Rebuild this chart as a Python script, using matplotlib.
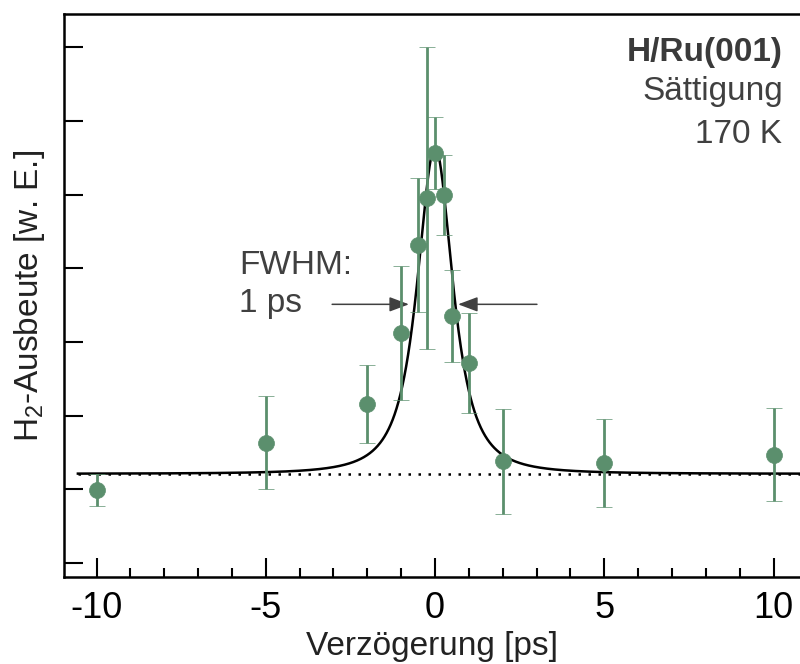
import numpy as np
import matplotlib
matplotlib.use("Agg")
import matplotlib.pyplot as plt
from matplotlib.ticker import MultipleLocator, NullFormatter

plt.rcParams['font.family'] = ['Liberation Sans', 'DejaVu Sans']
plt.rcParams['mathtext.fontset'] = 'custom'
plt.rcParams['mathtext.rm'] = 'Liberation Sans'
plt.rcParams['mathtext.it'] = 'Liberation Sans:italic'

# ---- data (y in tick units) ----
delay = [-10, -5, -2, -1, -0.5, -0.25, 0, 0.25, 0.5, 1, 2, 5, 10]
yield_h2 = [0.99, 1.63, 2.16, 3.12, 4.31, 4.95, 5.56, 4.99, 3.35, 2.71, 1.38, 1.36, 1.47]
yield_err = [0.22, 0.63, 0.53, 0.91, 0.91, 2.05, 0.49, 0.54, 0.62, 0.68, 0.71, 0.60, 0.63]

# peak-fit parameters (Pearson-VII-like profile)
fit_baseline = 1.21
fit_amplitude = 4.43
fit_center = 0.0
fit_width = 0.775
fit_power = 1.4

xticks = [-10, -5, 0, 5, 10]
xticklabels = ['-10', '-5', '0', '5', '10']
yticks = [0, 1, 2, 3, 4, 5, 6, 7]

green = '#5b8f6d'
gray = '#404040'

fig = plt.figure(figsize=(8, 6.64), dpi=100)
ax = fig.add_axes([0.08, 0.131, 0.92, 0.848])

xf = np.linspace(-10.55, 10.8, 3000)
yf = fit_baseline + fit_amplitude / (1 + ((xf - fit_center) / fit_width) ** 2) ** fit_power
ax.plot([xf[0], xf[-1]], [fit_baseline, fit_baseline], color='black', lw=1.8,
        linestyle=(0, (1, 3)), zorder=2)
ax.plot(xf, yf, color='black', lw=1.8, zorder=3)

ax.errorbar(delay, yield_h2, yerr=yield_err, fmt='o', color=green, ms=11.5,
            mec=green, mew=0.5, elinewidth=2.0, capsize=6, capthick=2.0,
            zorder=4)

# FWHM arrows
ax.annotate('', xy=(-0.77, 3.51), xytext=(-3.04, 3.51),
            arrowprops=dict(arrowstyle='-|>,head_length=1.2,head_width=0.45',
                            mutation_scale=10, color=gray, lw=1.1,
                            shrinkA=0, shrinkB=0))
ax.annotate('', xy=(0.68, 3.51), xytext=(3.01, 3.51),
            arrowprops=dict(arrowstyle='-|>,head_length=1.2,head_width=0.45',
                            mutation_scale=10, color=gray, lw=1.1,
                            shrinkA=0, shrinkB=0))

ax.text(0.238, 0.538, 'FWHM:', transform=ax.transAxes, fontsize=24,
        color=gray, ha='left', va='baseline')
ax.text(0.238, 0.471, '1 ps', transform=ax.transAxes, fontsize=24,
        color=gray, ha='left', va='baseline')

ax.text(0.977, 0.9165, 'H/Ru(001)', transform=ax.transAxes, fontsize=24,
        color='#3a3a3a', ha='right', va='baseline', fontweight='bold')
ax.text(0.977, 0.847, 'Sättigung', transform=ax.transAxes, fontsize=24,
        color=gray, ha='right', va='baseline')
ax.text(0.975, 0.771, '170 K', transform=ax.transAxes, fontsize=24,
        color=gray, ha='right', va='baseline')

ax.set_xlim(-10.96, 10.78)
ax.set_ylim(-0.19, 7.45)
ax.set_xticks(xticks)
ax.set_xticklabels(xticklabels)
ax.xaxis.set_minor_locator(MultipleLocator(1))
ax.set_yticks(yticks)
ax.yaxis.set_major_formatter(NullFormatter())

ax.tick_params(axis='both', which='major', direction='in', length=14, width=1.5,
               labelsize=26, pad=10, colors='black')
ax.tick_params(axis='x', which='minor', direction='in', length=6.5, width=1.5)

for s in ['left', 'bottom', 'top']:
    ax.spines[s].set_linewidth(1.8)
ax.spines['right'].set_visible(False)

ax.set_xlabel('Verzögerung [ps]', fontsize=24, color='#222222', labelpad=4)
ax.set_ylabel('H$_\\mathrm{2}$-Ausbeute [w. E.]', fontsize=24, color='#222222',
              labelpad=2)

fig.savefig('out.png', dpi=100)
